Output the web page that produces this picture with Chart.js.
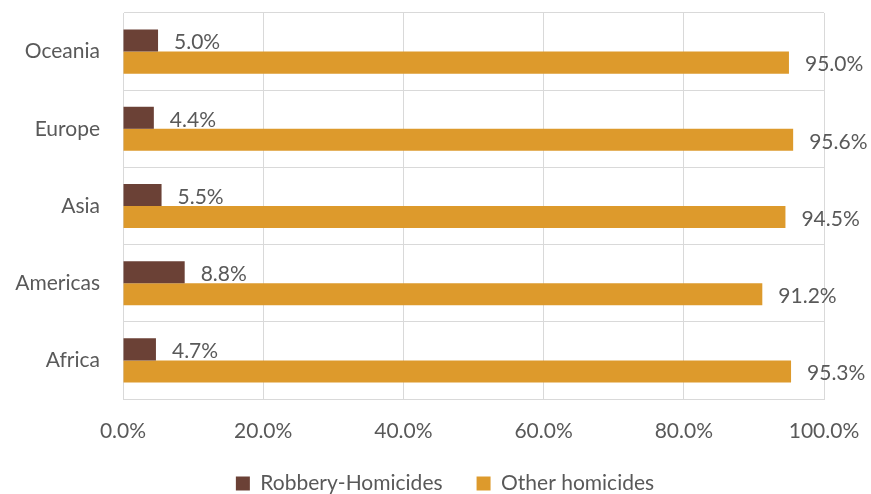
<!DOCTYPE html>
<html lang="en">

<head>
    <meta charset="UTF-8" />
    <title>Robbery-homicides by region</title>
    <script src="https://cdn.jsdelivr.net/npm/chart.js@4.4.1/dist/chart.umd.min.js"></script>
    <style>
        html, body { margin: 0; padding: 0; background: #fff; }
        #wrap { width: 871px; height: 494px; }
    </style>
</head>

<body>
    <div id="wrap"><canvas id="barChart"></canvas></div>

    <script>
        // data
        const regions = ["Oceania", "Europe", "Asia", "Americas", "Africa"];
        const robberyHomicides = [5.0, 4.4, 5.5, 8.8, 4.7];
        const otherHomicides = [95.0, 95.6, 94.5, 91.2, 95.3];
        const xTicks = [0, 20, 40, 60, 80, 100];

        const textColor = "#595959";
        const gridColor = "#D9D9D9";
        const font = { family: "Lato", size: 21 };

        // value labels to the right of each bar
        const valueLabels = {
            id: "valueLabels",
            afterDatasetsDraw(chart) {
                const ctx = chart.ctx;
                ctx.save();
                ctx.font = font.size + "px " + font.family;
                ctx.fillStyle = textColor;
                ctx.textBaseline = "middle";
                ctx.textAlign = "left";
                chart.data.datasets.forEach((ds, i) => {
                    chart.getDatasetMeta(i).data.forEach((bar, j) => {
                        ctx.fillText(ds.data[j].toFixed(1) + "%", bar.x + 16, bar.y + 2);
                    });
                });
                ctx.restore();
            }
        };

        // legend centred on the whole picture and a bit lower; x labels get room below
        const moveLegend = {
            id: "moveLegend",
            afterLayout(chart) {
                const lg = chart.legend;
                lg.left += 33;
                lg.right += 33;
                lg.top += 10;
                lg.bottom += 10;
                chart.scales.x.bottom = chart.scales.x.top + 55;
            }
        };

        const ctx = document.getElementById("barChart");
        const myChart = new Chart(ctx, {
            type: "bar",
            data: {
                labels: regions,
                datasets: [
                    {
                        label: "Robbery-Homicides",
                        data: robberyHomicides,
                        backgroundColor: "#6B4136",
                        borderWidth: 0,
                    },
                    {
                        label: "Other homicides",
                        data: otherHomicides,
                        backgroundColor: "#DD9A2C",
                        borderWidth: 0,
                    },
                ],
            },
            options: {
                indexAxis: "y",
                responsive: true,
                maintainAspectRatio: false,
                animation: false,
                categoryPercentage: 0.571,
                barPercentage: 1.0,
                layout: { padding: { top: 13, right: 47, left: 0, bottom: 0 } },
                plugins: {
                    tooltip: { enabled: false },
                    legend: {
                        position: "bottom",
                        labels: {
                            font: font,
                            color: textColor,
                            boxWidth: 14,
                            boxHeight: 14,
                            padding: 34,
                        },
                    },
                },
                scales: {
                    x: {
                        min: 0,
                        max: 100,
                        afterBuildTicks(scale) {
                            scale.ticks = xTicks.map(v => ({ value: v }));
                        },
                        afterFit(scale) {
                            scale.height = 30;
                            scale.paddingLeft = 0;
                            scale.paddingRight = 0;
                        },
                        grid: { color: gridColor, lineWidth: 1, drawTicks: false },
                        border: { color: gridColor },
                        ticks: {
                            font: font,
                            color: textColor,
                            padding: 20,
                            callback: v => v.toFixed(1) + "%",
                        },
                    },
                    y: {
                        afterFit(scale) {
                            scale.width = 123;
                            scale.paddingTop = 0;
                            scale.paddingBottom = 0;
                        },
                        grid: { color: gridColor, lineWidth: 1, drawTicks: false, offset: true },
                        border: { color: gridColor },
                        ticks: { font: font, color: textColor, padding: 23 },
                    },
                },
            },
            plugins: [valueLabels, moveLegend],
        });
    </script>
</body>

</html>
